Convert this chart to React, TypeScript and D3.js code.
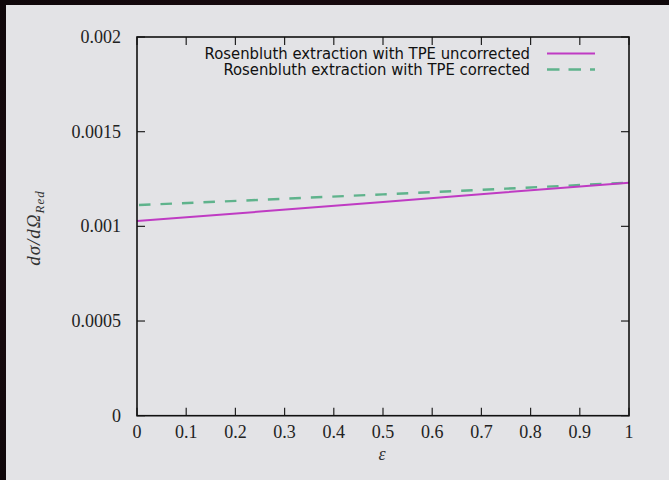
import React from "react";
import * as d3 from "d3";

const epsilon = [0, 0.25, 0.5, 0.75, 1];
const uncorrected = [0.001028, 0.001078, 0.001129, 0.00118, 0.00123];
const corrected = [0.001112, 0.00114, 0.001169, 0.001199, 0.001231];
const xTicks = [0, 0.1, 0.2, 0.3, 0.4, 0.5, 0.6, 0.7, 0.8, 0.9, 1];
const xTickLabels = ["0", "0.1", "0.2", "0.3", "0.4", "0.5", "0.6", "0.7", "0.8", "0.9", "1"];
const yTicks = [0, 0.0005, 0.001, 0.0015, 0.002];
const yTickLabels = ["0", "0.0005", "0.001", "0.0015", "0.002"];
const seriesNames = [
  "Rosenbluth extraction with TPE uncorrected",
  "Rosenbluth extraction with TPE corrected",
];

const W = 669;
const H = 480;
const L = 137, R = 629, T = 37, B = 415.7;

export default function App() {
  const x = d3.scaleLinear().domain([0, 1]).range([L, R]);
  const y = d3.scaleLinear().domain([0, 0.002]).range([B, T]);
  const line = d3
    .line<[number, number]>()
    .x((d) => x(d[0]))
    .y((d) => y(d[1]));
  const d1 = line(epsilon.map((e, i) => [e, uncorrected[i]] as [number, number]))!;
  const d2 = line(epsilon.map((e, i) => [e, corrected[i]] as [number, number]))!;
  const serif = "'Liberation Serif', 'DejaVu Serif', serif";
  const sans = "'DejaVu Sans Condensed', 'DejaVu Sans', sans-serif";
  const tk = 8;
  return (
    <svg
      width={W}
      height={H}
      style={{ position: "absolute", left: 0, top: 0 }}
    >
      <defs>
        <radialGradient id="bg" cx="0.5" cy="0.5" r="0.8">
          <stop offset="0" stopColor="#2a0f18" />
          <stop offset="1" stopColor="#0b0608" />
        </radialGradient>
      </defs>
      <rect x={0} y={0} width={W} height={H} fill="url(#bg)" />
      <rect x={6} y={5} width={W - 6} height={H - 5} fill="#e3e3e6" />
      {/* ticks */}
      <g stroke="#222" strokeWidth={1.2}>
        {xTicks.map((t, i) => (
          <g key={"xt" + i}>
            <line x1={x(t)} x2={x(t)} y1={B} y2={B - tk} />
            <line x1={x(t)} x2={x(t)} y1={T} y2={T + tk} />
          </g>
        ))}
        {yTicks.map((t, i) => (
          <g key={"yt" + i}>
            <line x1={L} x2={L + tk} y1={y(t)} y2={y(t)} />
            <line x1={R} x2={R - tk} y1={y(t)} y2={y(t)} />
          </g>
        ))}
      </g>
      <path d={d2} fill="none" stroke="#5fb38c" strokeWidth={2.4} strokeDasharray="11.5,10" strokeDashoffset={-2} />
      <path d={d1} fill="none" stroke="#bf3bc3" strokeWidth={2} />
      <rect x={L} y={T} width={R - L} height={B - T} fill="none" stroke="#111" strokeWidth={1.6} />
      {/* tick labels */}
      <g fontFamily={serif} fontSize={18} fill="#222">
        {xTicks.map((t, i) => (
          <text key={"xl" + i} x={x(t)} y={B + 22} textAnchor="middle">
            {xTickLabels[i]}
          </text>
        ))}
        {yTicks.map((t, i) => (
          <text key={"yl" + i} x={121} y={y(t) + 6} textAnchor="end">
            {yTickLabels[i]}
          </text>
        ))}
      </g>
      {/* axis labels */}
      <text x={382} y={460} fontFamily={serif} fontStyle="italic" fontSize={18} fill="#333" textAnchor="middle">
        ε
      </text>
      <text
        transform={`translate(40,228) rotate(-90)`}
        fontFamily={serif}
        fontStyle="italic"
        fontSize={19}
        fill="#333"
        textAnchor="middle"
        letterSpacing={1}
      >
        dσ/dΩ
        <tspan fontSize={13} dy={4}>Red</tspan>
      </text>
      {/* legend */}
      <g fontFamily={sans} fontSize={16.5} fill="#111">
        <text x={530} y={59} textAnchor="end">{seriesNames[0]}</text>
        <text x={530} y={75} textAnchor="end">{seriesNames[1]}</text>
      </g>
      <line x1={547} x2={595} y1={53.5} y2={53.5} stroke="#bf3bc3" strokeWidth={2} />
      <line x1={547} x2={595} y1={69.5} y2={69.5} stroke="#5fb38c" strokeWidth={2.4} strokeDasharray="12.5,9" />
    </svg>
  );
}
